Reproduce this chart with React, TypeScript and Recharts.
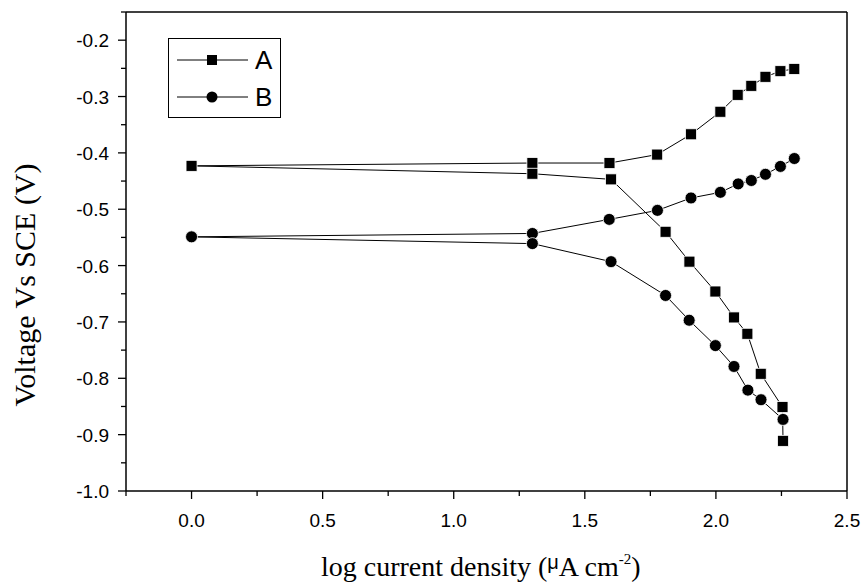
import React from "react";
import {
  ScatterChart,
  Scatter,
  XAxis,
  YAxis,
  ReferenceLine,
  Legend,
} from "recharts";

// series A (squares): two branches leaving the common point at x = 0
const aUpperX = [0, 1.3, 1.594, 1.776, 1.905, 2.017, 2.083, 2.135, 2.189, 2.246, 2.299];
const aUpperY = [-0.423, -0.418, -0.418, -0.403, -0.367, -0.327, -0.297, -0.281, -0.265, -0.255, -0.251];
const aLowerX = [1.3, 1.6, 1.808, 1.899, 1.998, 2.069, 2.12, 2.171, 2.254, 2.256];
const aLowerY = [-0.437, -0.447, -0.54, -0.593, -0.646, -0.692, -0.721, -0.792, -0.851, -0.911];

// series B (circles)
const bUpperX = [0, 1.3, 1.593, 1.777, 1.905, 2.017, 2.085, 2.135, 2.189, 2.246, 2.299];
const bUpperY = [-0.549, -0.543, -0.518, -0.502, -0.48, -0.47, -0.455, -0.449, -0.438, -0.424, -0.41];
const bLowerX = [1.3, 1.6, 1.808, 1.898, 1.998, 2.069, 2.122, 2.172, 2.256];
const bLowerY = [-0.561, -0.593, -0.653, -0.697, -0.742, -0.779, -0.821, -0.838, -0.873];

const xTicks = [-0.25, 0, 0.25, 0.5, 0.75, 1.0, 1.25, 1.5, 1.75, 2.0, 2.25, 2.5];
const yTicks = [
  -1.0, -0.95, -0.9, -0.85, -0.8, -0.75, -0.7, -0.65, -0.6, -0.55, -0.5,
  -0.45, -0.4, -0.35, -0.3, -0.25, -0.2, -0.15,
];

const SANS = "'Liberation Sans', Arial, sans-serif";
const SERIF = "'Liberation Serif', 'Times New Roman', serif";

// upper branch is walked backwards so the line goes out and back through x = 0
function branches(ux: number[], uy: number[], lx: number[], ly: number[]) {
  const pts: { x: number; y: number }[] = [];
  for (let i = ux.length - 1; i >= 0; i--) pts.push({ x: ux[i], y: uy[i] });
  for (let i = 0; i < lx.length; i++) pts.push({ x: lx[i], y: ly[i] });
  return pts;
}

const dataA = branches(aUpperX, aUpperY, aLowerX, aLowerY);
const dataB = branches(bUpperX, bUpperY, bLowerX, bLowerY);

const SquareDot = (props: any) => (
  <rect
    x={props.cx - 5.5}
    y={props.cy - 5.5}
    width={11}
    height={11}
    fill="#000"
    stroke="#fff"
    strokeWidth={0.8}
  />
);

const CircleDot = (props: any) => (
  <circle cx={props.cx} cy={props.cy} r={6} fill="#000" stroke="#fff" strokeWidth={0.8} />
);

const XTick = (props: any) => {
  const { x, y, payload } = props;
  const v = payload.value;
  const major = Math.abs(v * 2 - Math.round(v * 2)) < 1e-6;
  return (
    <g>
      <line x1={x} y1={y} x2={x} y2={y + (major ? 8 : 5)} stroke="#000" strokeWidth={1.3} />
      {major && (
        <text x={x} y={y + 36} textAnchor="middle" fontFamily={SANS} fontSize={19} fill="#000">
          {v.toFixed(1)}
        </text>
      )}
    </g>
  );
};

const YTick = (props: any) => {
  const { x, y, payload } = props;
  const v = payload.value;
  const major = Math.round(Math.abs(v) * 100) % 10 === 0;
  return (
    <g>
      <line x1={x} y1={y} x2={x - (major ? 8 : 5)} y2={y} stroke="#000" strokeWidth={1.3} />
      {major && (
        <text x={x - 17} y={y + 7} textAnchor="end" fontFamily={SANS} fontSize={19} fill="#000">
          {v.toFixed(1)}
        </text>
      )}
    </g>
  );
};

const XTitle = () => (
  <text x={321} y={576} fontFamily={SERIF} fontSize={28} fill="#000">
    log current density (
    <tspan fontFamily={SANS} fontSize={20} dy={-7}>
      μ
    </tspan>
    <tspan dy={7}>A cm</tspan>
    <tspan fontSize={15} dy={-12}>
      -2
    </tspan>
    <tspan dy={12}>)</tspan>
  </text>
);

const YTitle = () => (
  <text
    x={35}
    y={285}
    transform="rotate(-90, 35, 285)"
    textAnchor="middle"
    fontFamily={SERIF}
    fontSize={30}
    fill="#000"
  >
    Voltage Vs SCE (V)
  </text>
);

const LegendBox = () => (
  <svg width={113} height={80} style={{ display: "block" }}>
    <rect x={0.5} y={0.5} width={112} height={79} fill="#fff" stroke="#000" strokeWidth={1} />
    <line x1={9} y1={22} x2={80} y2={22} stroke="#000" strokeWidth={1} />
    <rect x={39} y={17} width={10} height={10} fill="#000" />
    <text x={87} y={31} fontFamily={SANS} fontSize={26} fill="#000">
      A
    </text>
    <line x1={9} y1={59} x2={80} y2={59} stroke="#000" strokeWidth={1} />
    <circle cx={44} cy={59} r={5.5} fill="#000" />
    <text x={87} y={68} fontFamily={SANS} fontSize={26} fill="#000">
      B
    </text>
  </svg>
);

export default function App() {
  return (
    <div style={{ position: "absolute", left: 0, top: 0, width: 865, height: 583, background: "#fff" }}>
      <ScatterChart width={865} height={583} margin={{ top: 12, right: 18, left: 66, bottom: 32 }}>
        <XAxis
          type="number"
          dataKey="x"
          domain={[-0.25, 2.5]}
          ticks={xTicks}
          interval={0}
          height={60}
          tickSize={0}
          tickMargin={0}
          tickLine={false}
          tick={<XTick />}
          axisLine={{ stroke: "#000", strokeWidth: 1.5 }}
          allowDataOverflow
          label={XTitle}
        />
        <YAxis
          type="number"
          dataKey="y"
          domain={[-1.0, -0.15]}
          ticks={yTicks}
          interval={0}
          width={60}
          tickSize={0}
          tickMargin={0}
          tickLine={false}
          tick={<YTick />}
          axisLine={{ stroke: "#000", strokeWidth: 1.5 }}
          allowDataOverflow
          label={YTitle}
        />
        <ReferenceLine x={2.5} stroke="#000" strokeWidth={1.5} />
        <ReferenceLine y={-0.15} stroke="#000" strokeWidth={1.5} />
        <Legend
          layout="vertical"
          align="center"
          verticalAlign="middle"
          content={LegendBox}
          wrapperStyle={{ position: "absolute", left: 168, top: 38, width: 113, height: 80 }}
        />
        <Scatter
          name="A"
          data={dataA}
          line={{ stroke: "#000", strokeWidth: 1 }}
          lineType="joint"
          shape={SquareDot}
          isAnimationActive={false}
        />
        <Scatter
          name="B"
          data={dataB}
          line={{ stroke: "#000", strokeWidth: 1 }}
          lineType="joint"
          shape={CircleDot}
          isAnimationActive={false}
        />
      </ScatterChart>
    </div>
  );
}
